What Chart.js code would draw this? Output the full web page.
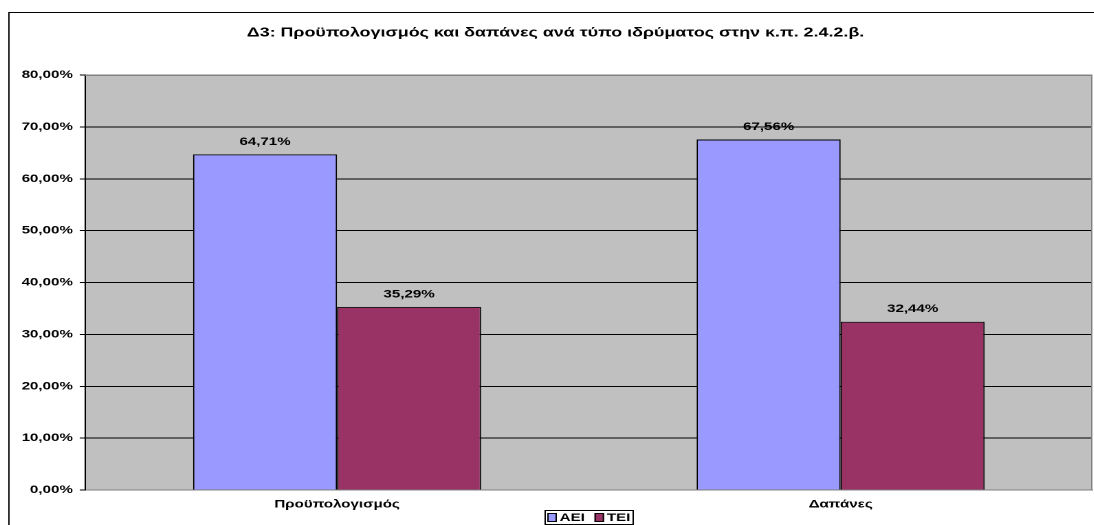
<!DOCTYPE html>
<html>
<head>
<meta charset="utf-8">
<script src="https://cdn.jsdelivr.net/npm/chart.js@4"></script>
<style>
  html, body { margin: 0; padding: 0; background: #fff; overflow: hidden; }
  #wrap { width: 1094px; height: 525px; overflow: hidden; }
  /* the original picture is stretched sideways, so draw narrow and stretch */
  #chart { transform: scaleX(1.375); transform-origin: 0 0; }
</style>
</head>
<body>
<div id="wrap"><canvas id="chart" width="796" height="525"></canvas></div>
<script>
// chart data
const categories = ['Προϋπολογισμός', 'Δαπάνες'];
const seriesNames = ['ΑΕΙ', 'ΤΕΙ'];
const aeiValues = [64.71, 67.56];
const teiValues = [35.29, 32.44];
const titleText = 'Δ3: Προϋπολογισμός και δαπάνες ανά τύπο ιδρύματος στην κ.π. 2.4.2.β.';

const FONT = 'Arial, "Liberation Sans", sans-serif';
const fmt = v => v.toFixed(2).replace('.', ',') + '%';

// frame, plot background, title, value labels, legend
const decorations = {
    id: 'decorations',
    beforeDraw(chart) {
        const { ctx, chartArea: a } = chart;
        ctx.save();
        ctx.fillStyle = '#C0C0C0';
        ctx.fillRect(a.left, a.top, a.right - a.left, a.bottom - a.top);
        ctx.strokeStyle = '#000';
        ctx.lineWidth = 1;
        ctx.strokeRect(6.5, 12.5, 900, 600);
        ctx.fillStyle = '#000';
        ctx.font = 'bold 13px ' + FONT;
        ctx.textAlign = 'center';
        ctx.textBaseline = 'middle';
        ctx.fillText(titleText, 404, 33);
        ctx.restore();
    },
    afterDraw(chart) {
        const { ctx } = chart;
        const a = chart.chartArea;
        ctx.save();
        // plot border (top / right)
        ctx.strokeStyle = '#808080';
        ctx.lineWidth = 1;
        ctx.beginPath();
        ctx.moveTo(a.left, a.top + 0.5);
        ctx.lineTo(a.right - 0.5, a.top + 0.5);
        ctx.lineTo(a.right - 0.5, a.bottom);
        ctx.stroke();

        // value labels
        ctx.fillStyle = '#000';
        ctx.font = 'bold 11px ' + FONT;
        ctx.textAlign = 'center';
        ctx.textBaseline = 'bottom';
        chart.data.datasets.forEach((ds, i) => {
            chart.getDatasetMeta(i).data.forEach((bar, j) => {
                ctx.fillText(fmt(ds.data[j]), bar.x, bar.y - 7);
            });
        });

        // legend
        const boxW = 7, boxH = 9, gap = 2, itemGap = 7, pad = 2;
        const items = chart.data.datasets.map(ds => ({
            text: ds.label, color: ds.backgroundColor, w: ctx.measureText(ds.label).width
        }));
        let total = pad * 2;
        items.forEach((it, i) => { total += boxW + gap + it.w + (i ? itemGap : 0); });
        const cx = (a.left + a.right) / 2;
        let x = Math.round(cx - total / 2);
        const yMid = 517.5;
        ctx.strokeStyle = '#000';
        ctx.strokeRect(x + 0.5, 510.5, Math.round(total), 14);
        x += pad;
        ctx.textAlign = 'left';
        ctx.textBaseline = 'middle';
        items.forEach((it, i) => {
            if (i) x += itemGap;
            ctx.fillStyle = it.color;
            ctx.fillRect(x, yMid - boxH / 2, boxW, boxH);
            ctx.strokeRect(x + 0.5, yMid - boxH / 2 + 0.5, boxW - 1, boxH - 1);
            x += boxW + gap;
            ctx.fillStyle = '#000';
            ctx.fillText(it.text, x, yMid + 0.5);
            x += it.w;
        });
        ctx.restore();
    }
};

new Chart(document.getElementById('chart'), {
    type: 'bar',
    data: {
        labels: categories,
        datasets: [
            {
                label: seriesNames[0],
                data: aeiValues,
                backgroundColor: '#9999FF',
                borderColor: '#000',
                borderWidth: 1
            },
            {
                label: seriesNames[1],
                data: teiValues,
                backgroundColor: '#993366',
                borderColor: '#000',
                borderWidth: 1
            }
        ]
    },
    options: {
        responsive: false,
        animation: false,
        devicePixelRatio: 2,
        datasets: {
            bar: { categoryPercentage: 0.572, barPercentage: 1 }
        },
        layout: { padding: { top: 75, right: 1.5, left: 0, bottom: 15 } },
        plugins: {
            title: { display: false },
            tooltip: { enabled: false },
            legend: { display: false }
        },
        scales: {
            x: {
                grid: { display: false, drawTicks: false },
                border: { color: '#808080' },
                ticks: {
                    color: '#000',
                    padding: 8,
                    font: { family: FONT, size: 11, weight: 'bold' }
                },
                afterFit(s) { s.height = 20; }
            },
            y: {
                min: 0,
                max: 80,
                ticks: {
                    stepSize: 10,
                    color: '#000',
                    padding: 5,
                    font: { family: FONT, size: 11, weight: 'bold' },
                    callback: v => fmt(v)
                },
                grid: {
                    color: ctx => (ctx.tick && (ctx.tick.value === 0 || ctx.tick.value === 80)) ? '#808080' : '#000',
                    tickColor: '#000',
                    tickLength: 4
                },
                border: { color: '#000' },
                afterFit(s) { s.width = 62; }
            }
        }
    },
    plugins: [decorations]
});
</script>
</body>
</html>
